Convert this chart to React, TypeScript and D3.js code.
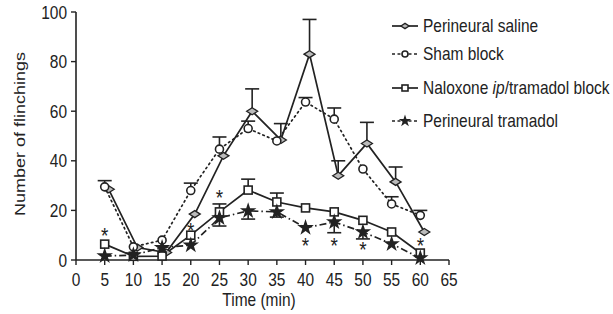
import React from 'react'
import * as d3 from 'd3'

// time points (min)
const times = [5, 10, 15, 20, 25, 30, 35, 40, 45, 50, 55, 60]
const xTicks = [0, 5, 10, 15, 20, 25, 30, 35, 40, 45, 50, 55, 60, 65]
const yTicks = [0, 20, 40, 60, 80, 100]

// mean number of flinchings per group
const saline = [28.5, 5, 3, 18.5, 42, 60, 48.4, 83, 34, 47, 31.5, 11.3]
const sham = [29.5, 5.3, 8, 28, 44.7, 53, 48, 63.7, 56.8, 36.7, 22.6, 18]
const naloxone = [6.4, 1.5, 1.6, 10, 19.4, 28.2, 23.4, 21, 19.4, 16, 11.3, 2.8]
const tramadol = [1.6, 2, 5, 6, 17, 19.8, 19.4, 13, 15.3, 11.3, 6.5, 0.8]

// error bar ends (null = not drawn)
const salineErr = [null, null, null, null, null, 69, 55, 97, 40, 55.5, 37.5, null]
const shamErr = [32, null, null, 31, 49.6, 56, null, 65.5, 61.3, null, 25.5, 20]
const naloxoneErr = [null, null, null, null, 22.6, 32.6, 27, null, null, null, null, null]
const tramadolErr = [null, null, null, null, 13.7, 16.5, 17.3, null, 11, 8.5, null, null]

// significance marks [time, height]
const stars = [[5, 11.3], [20, 13.3], [25, 26.6], [40, 7.3], [45, 7.3], [50, 5.6], [60, 7.3]]

const legendLabels = ['Perineural saline', 'Sham block', 'Naloxone ip/tramadol block', 'Perineural tramadol']

const ink = '#222'
const squeeze = 0.86

// text in the source is a bit narrow, so squeeze it horizontally
function T({ x, y, anchor = 'start', size = 18, children }: any) {
  return (
    <text transform={`translate(${x},${y}) scale(${squeeze},1)`} textAnchor={anchor} fontSize={size} fill={ink}>
      {children}
    </text>
  )
}

export default function App() {
  const x = d3.scaleLinear().domain([0, 65]).range([76, 449])
  const y = d3.scaleLinear().domain([0, 100]).range([260, 12])

  const series = [
    { vals: saline, err: salineErr, dash: null, shape: 'diamond', dx: 4 },
    { vals: sham, err: shamErr, dash: '1.5,3.5', shape: 'circle', dx: 0 },
    { vals: naloxone, err: naloxoneErr, dash: null, shape: 'square', dx: 0 },
    { vals: tramadol, err: tramadolErr, dash: '7,3,1.5,3', shape: 'star', dx: 0 },
  ]

  function marker(shape: string, cx: number, cy: number, key: any, k = 1) {
    if (shape === 'diamond') {
      return <path key={key} d={`M${cx - 5.5 * k},${cy}L${cx},${cy - 3.5 * k}L${cx + 5.5 * k},${cy}L${cx},${cy + 3.5 * k}Z`}
        fill="#bbb" stroke={ink} strokeWidth={1.3} />
    }
    if (shape === 'circle') {
      return <circle key={key} cx={cx} cy={cy} r={4 * k} fill="#fff" stroke={ink} strokeWidth={1.6} />
    }
    if (shape === 'square') {
      return <rect key={key} x={cx - 4 * k} y={cy - 4 * k} width={8 * k} height={8 * k} fill="#fff" stroke={ink} strokeWidth={1.6} />
    }
    const p = d3.symbol(d3.symbolStar, 85 * k * k)()
    return <path key={key} d={p as string} transform={`translate(${cx},${cy})`} fill={ink} />
  }

  const legendY = [26, 54, 88, 121]

  return (
    <svg width={613} height={314} style={{ position: 'absolute', left: 0, top: 0, fontFamily: 'Liberation Sans, Arial, sans-serif' }}>
      <rect width={613} height={314} fill="#fff" />
      {/* axes */}
      <line x1={x(0)} x2={x(65)} y1={y(0)} y2={y(0)} stroke={ink} strokeWidth={1.6} />
      <line x1={x(0)} x2={x(0)} y1={y(0)} y2={y(100)} stroke={ink} strokeWidth={1.6} />
      {xTicks.map(t => (
        <g key={'xt' + t}>
          <line x1={x(t)} x2={x(t)} y1={y(0)} y2={y(0) + 5} stroke={ink} strokeWidth={1.4} />
          <T x={x(t)} y={y(0) + 26} anchor="middle">{t}</T>
        </g>
      ))}
      {yTicks.map(t => (
        <g key={'yt' + t}>
          <line x1={x(0) - 5} x2={x(0)} y1={y(t)} y2={y(t)} stroke={ink} strokeWidth={1.4} />
          <T x={x(0) - 9} y={y(t) + 6.5} anchor="end">{t}</T>
        </g>
      ))}
      <T x={259} y={306} anchor="middle">Time (min)</T>
      <text transform={`translate(25,134) rotate(-90) scale(1,${squeeze})`} textAnchor="middle" fontSize={18} fill={ink}>
        Number of flinchings
      </text>

      {/* error bars */}
      {series.map((s, si) => s.err.map((e, i) => {
        if (e == null) return null
        const cx = x(times[i]) + s.dx
        return (
          <g key={`e${si}-${i}`}>
            <line x1={cx} x2={cx} y1={y(s.vals[i])} y2={y(e)} stroke={ink} strokeWidth={1.6} />
            <line x1={cx - 7} x2={cx + 7} y1={y(e)} y2={y(e)} stroke={ink} strokeWidth={1.6} />
          </g>
        )
      }))}

      {/* lines */}
      {series.map((s, si) => {
        const line = d3.line<number>().x((_, i) => x(times[i]) + s.dx).y(d => y(d))
        return <path key={'l' + si} d={line(s.vals) as string} fill="none" stroke={ink} strokeWidth={1.7}
          strokeDasharray={s.dash || undefined} strokeLinecap={s.dash === '1.5,3.5' ? 'round' : 'butt'} />
      })}

      {/* markers */}
      {series.map((s, si) => s.vals.map((v, i) => marker(s.shape, x(times[i]) + s.dx, y(v), `m${si}-${i}`)))}

      {/* significance */}
      {stars.map(([t, v], i) => (
        <T key={'s' + i} x={x(t)} y={y(v) + 11} anchor="middle" size={22}>*</T>
      ))}

      {/* legend */}
      {series.map((s, si) => (
        <g key={'lg' + si}>
          <line x1={392} x2={418} y1={legendY[si]} y2={legendY[si]} stroke={ink} strokeWidth={1.7}
            strokeDasharray={s.dash ? '3,2.5' : undefined} />
          {marker(s.shape, 405, legendY[si], 'lm' + si, 0.75)}
          <T x={423} y={legendY[si] + 6}>
            {si === 2 ? <>Naloxone <tspan fontStyle="italic">ip</tspan>/tramadol block</> : legendLabels[si]}
          </T>
        </g>
      ))}
    </svg>
  )
}
